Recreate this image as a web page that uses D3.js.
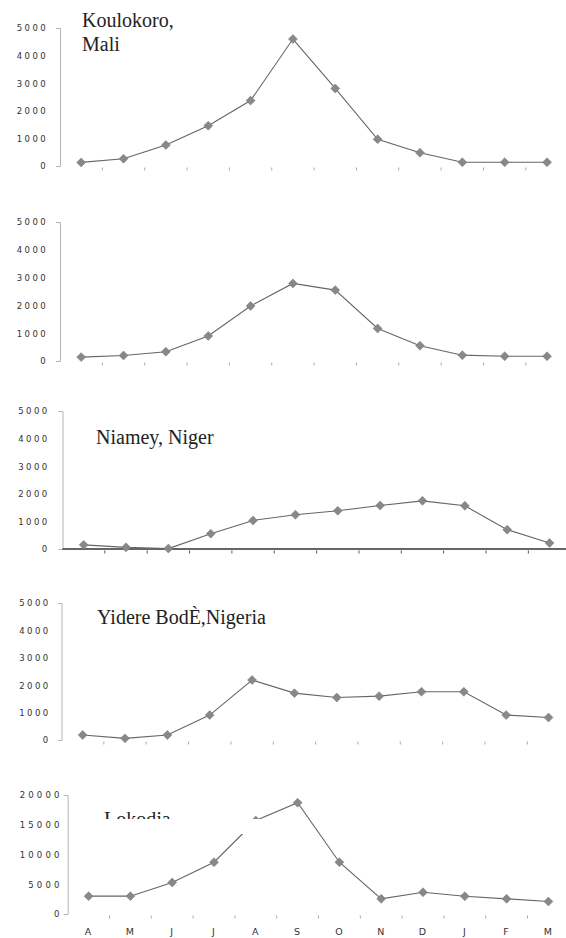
<!DOCTYPE html>
<meta charset="utf-8">
<style>
body { margin: 0; background: #fff; }
.ylab { font-family: "DejaVu Sans", sans-serif; font-size: 8.5px; fill: #333; }
.xlab { font-family: "DejaVu Sans", sans-serif; font-size: 9.5px; fill: #333; letter-spacing: 1px; }
.title { font-family: "Liberation Serif", "Times New Roman", serif; font-size: 20px; fill: #222; }
.series { fill: none; stroke: #666; stroke-width: 1.1px; }
.marker { fill: #888; stroke: #7a7a7a; stroke-width: 0.5px; }
</style>
<svg width="566" height="938"></svg>
<script src="https://d3js.org/d3.v7.min.js"></script>
<script>
// months, April to March
var months = ["A", "M", "J", "J", "A", "S", "O", "N", "D", "J", "F", "M"];

// monthly discharge
var koulikoro = [130, 265, 760, 1460, 2370, 4600, 2810, 970, 480, 135, 135, 135];
var upperStation = [140, 200, 335, 900, 1980, 2790, 2550, 1170, 550, 210, 170, 170];
var niamey = [150, 60, 15, 555, 1035, 1240, 1385, 1575, 1745, 1565, 700, 220];
var yidere = [180, 60, 180, 910, 2190, 1710, 1550, 1600, 1760, 1760, 910, 820];
var lokodja = [3000, 3000, 5300, 8700, 15700, 18700, 8700, 2550, 3650, 2980, 2550, 2100];

var yTicks5k = [0, 1000, 2000, 3000, 4000, 5000];
var yTicks20k = [0, 5000, 10000, 15000, 20000];

var panels = [
  {values: koulikoro, ticks: yTicks5k, max: 5000, left: 60, top: 28, zero: 166, labGap: 12, ls: 2.4,
   title: ["Koulokoro,", "Mali"], tx: 82, ty: 27},
  {values: upperStation, ticks: yTicks5k, max: 5000, left: 60, top: 222, zero: 361, labGap: 12, ls: 2.4,
   title: null},
  {values: niamey, ticks: yTicks5k, max: 5000, left: 62.5, top: 411, zero: 549, labGap: 13, ls: 2.4,
   title: ["Niamey, Niger"], tx: 96, ty: 444, baseline: true},
  {values: yidere, ticks: yTicks5k, max: 5000, left: 61.5, top: 603, zero: 740, labGap: 11, ls: 2.4,
   title: ["Yidere BodÈ,Nigeria"], tx: 97, ty: 624},
  {values: lokodja, ticks: yTicks20k, max: 20000, left: 67.7, top: 795, zero: 914, labGap: 5, ls: 3.2,
   title: ["Lokodja"], tx: 104, ty: 826, mask: true, xLabels: true}
];

var svg = d3.select("svg");
var diamond = d3.symbol().type(d3.symbolSquare).size(40);

panels.forEach(function(p) {
  var g = svg.append("g");
  var step = p.xLabels ? 41.8 : 42.35;
  var x = d3.scaleBand().domain(d3.range(months.length)).range([p.left, p.left + step * months.length]);
  var y = d3.scaleLinear().domain([0, p.max]).range([p.zero, p.top]);

  // y axis
  var ya = g.append("g").attr("transform", "translate(" + p.left + ",0)")
    .call(d3.axisLeft(y).tickValues(p.ticks).tickFormat(d3.format("d"))
      .tickSizeInner(0).tickSizeOuter(4).tickPadding(p.labGap));
  ya.select(".domain").attr("stroke", "#b5b5b5");
  ya.selectAll(".tick text").attr("class", "ylab").attr("fill", null)
    .style("letter-spacing", p.ls + "px").attr("dy", "0.35em");

  // x axis line only on Niamey
  if (p.baseline) {
    g.append("line").attr("x1", p.left).attr("x2", 566).attr("y1", p.zero).attr("y2", p.zero)
      .attr("stroke", "#333").attr("stroke-width", 1.5);
  }
  // category tick marks between months
  g.selectAll(".xt").data(d3.range(1, months.length)).enter().append("line")
    .attr("x1", function(i) { return x(i); }).attr("x2", function(i) { return x(i); })
    .attr("y1", p.zero + 1.5).attr("y2", p.zero + 4.5)
    .attr("stroke", p.baseline ? "#555" : "#aaa").attr("stroke-width", 1);

  if (p.xLabels) {
    g.selectAll(".xlab").data(months).enter().append("text")
      .attr("class", "xlab").attr("text-anchor", "middle")
      .attr("x", function(d, i) { return x(i) + x.bandwidth() / 2; })
      .attr("y", p.zero + 21).text(function(d) { return d; });
  }

  var line = d3.line()
    .x(function(d, i) { return x(i) + x.bandwidth() / 2; })
    .y(function(d) { return y(d); });
  g.append("path").datum(p.values).attr("class", "series").attr("d", line);

  g.selectAll(".marker").data(p.values).enter().append("path")
    .attr("class", "marker").attr("d", diamond)
    .attr("transform", function(d, i) {
      return "translate(" + (x(i) + x.bandwidth() / 2) + "," + y(d) + ") rotate(45)";
    });

  if (p.title) {
    var t = g.append("text").attr("class", "title").attr("x", p.tx).attr("y", p.ty);
    p.title.forEach(function(s, i) {
      t.append("tspan").attr("x", p.tx).attr("dy", i ? 24 : 0).text(s);
    });
  }
  // the source picture has the lower part of this label blanked out
  if (p.mask) {
    g.append("rect").attr("x", 98).attr("y", 819).attr("width", 164).attr("height", 15).attr("fill", "#fff");
  }
});
</script>
